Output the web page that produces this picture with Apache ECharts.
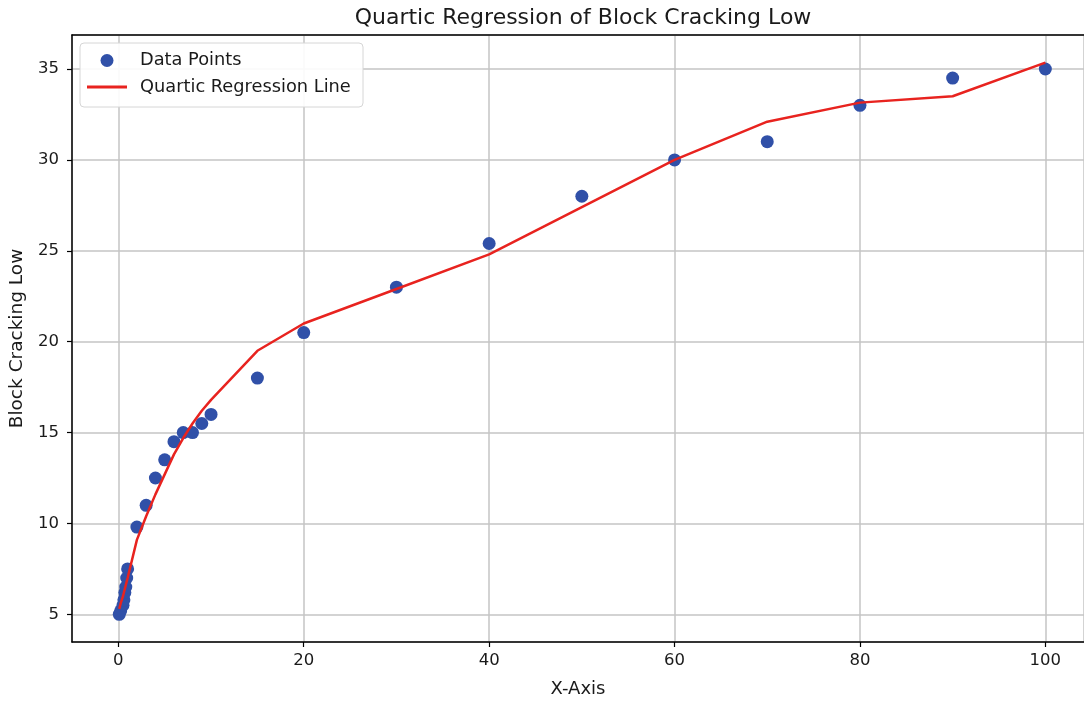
<!DOCTYPE html>
<html>
<head>
<meta charset="utf-8">
<script src="https://cdn.jsdelivr.net/npm/echarts@6/dist/echarts.min.js"></script>
<style>
html,body{margin:0;padding:0;background:#fff;}
#chart{width:1084px;height:704px;}
</style>
</head>
<body>
<div id="chart"></div>
<script>
const dataX = [0.1,0.25,0.5,0.6,0.7,0.8,0.9,1.0,2,3,4,5,6,7,8,9,10,15,20,30,40,50,60,70,80,90,100];
const dataY = [5,5.2,5.5,5.8,6.2,6.5,7,7.5,9.8,11,12.5,13.5,14.5,15,15,15.5,16,18,20.5,23,25.4,28,30,31,33,34.5,35];
const lineY = [5.3,5.6,6.0,6.2,6.4,6.6,6.8,7.0,9.1,10.4,11.6,12.7,13.8,14.7,15.5,16.2,16.8,19.5,21.0,22.9,24.8,27.4,30.0,32.1,33.15,33.5,35.35];
const titleText = 'Quartic Regression of Block Cracking Low';
const xName = 'X-Axis';
const yName = 'Block Cracking Low';
const seriesNames = ['Data Points', 'Quartic Regression Line'];

const FONT = 'DejaVu Sans';
const TXT = '#1a1a1a';
const chart = echarts.init(document.getElementById('chart'), null, {renderer: 'canvas'});

const scatterData = dataX.map((x, i) => [x, dataY[i]]);
const lineData = dataX.map((x, i) => [x, lineY[i]]);

const axisLineStyle = {color: '#000', width: 1.5};

chart.setOption({
  backgroundColor: '#ffffff',
  animation: false,
  title: {
    text: titleText, left: 578, top: 2, textAlign: 'center',
    textStyle: {fontFamily: FONT, fontSize: 22, fontWeight: 'normal', color: TXT}
  },
  grid: {left: 72, right: 0, top: 35, bottom: 62, show: false, containLabel: false},
  xAxis: [{
    type: 'value', min: -5, max: 104.17, minInterval: 20, maxInterval: 20,
    name: xName, nameLocation: 'middle', nameGap: 38,
    nameTextStyle: {fontFamily: FONT, fontSize: 18, color: TXT},
    axisLine: {show: true, onZero: false, lineStyle: axisLineStyle},
    axisTick: {show: true, inside: false, length: 5, lineStyle: {color: '#000', width: 1.2}},
    axisLabel: {fontFamily: FONT, fontSize: 16.5, color: TXT, margin: 10, showMinLabel: false, showMaxLabel: false},
    splitLine: {show: true, lineStyle: {color: '#c4c4c4', width: 1.5}}
  }, {
    type: 'value', position: 'top', min: -5, max: 104.17,
    axisLine: {show: true, onZero: false, lineStyle: axisLineStyle},
    axisTick: {show: false}, axisLabel: {show: false}, splitLine: {show: false}
  }],
  yAxis: {
    type: 'value', min: 3.48, max: 36.87, minInterval: 5, maxInterval: 5,
    name: yName, nameLocation: 'middle', nameGap: 41,
    nameTextStyle: {fontFamily: FONT, fontSize: 18.5, color: TXT},
    axisLine: {show: true, onZero: false, lineStyle: axisLineStyle},
    axisTick: {show: true, inside: false, length: 5, lineStyle: {color: '#000', width: 1.2}},
    axisLabel: {fontFamily: FONT, fontSize: 16.5, color: TXT, margin: 13, showMinLabel: false, showMaxLabel: false},
    splitLine: {show: true, lineStyle: {color: '#c4c4c4', width: 1.5}}
  },
  graphic: [{
    type: 'rect', z: 50,
    shape: {x: 80, y: 43, width: 283, height: 64, r: 4},
    style: {fill: 'rgba(255,255,255,0.9)', stroke: '#d6d6d6', lineWidth: 1}
  }],
  legend: [
    {
      data: [{name: seriesNames[0], icon: 'circle'}],
      left: 100.5, top: 51.5, padding: 0, itemWidth: 13, itemHeight: 13, z: 60,
      textStyle: {fontFamily: FONT, fontSize: 17.8, color: TXT, padding: [0, 0, 0, 21.5]}
    },
    {
      data: [{name: seriesNames[1], icon: 'rect'}],
      left: 87, top: 78, padding: 0, itemWidth: 40, itemHeight: 3, z: 60,
      textStyle: {fontFamily: FONT, fontSize: 17.8, color: TXT, padding: [0, 0, 0, 8]}
    }
  ],
  series: [
    {
      name: seriesNames[0], type: 'scatter', data: scatterData,
      symbol: 'circle', symbolSize: 13, z: 3,
      itemStyle: {color: '#3050a8', opacity: 1}
    },
    {
      name: seriesNames[1], type: 'line', data: lineData,
      showSymbol: false, symbol: 'none', z: 4,
      lineStyle: {color: '#e8231f', width: 2.5},
      itemStyle: {color: '#e8231f'}
    }
  ]
});
</script>
</body>
</html>
